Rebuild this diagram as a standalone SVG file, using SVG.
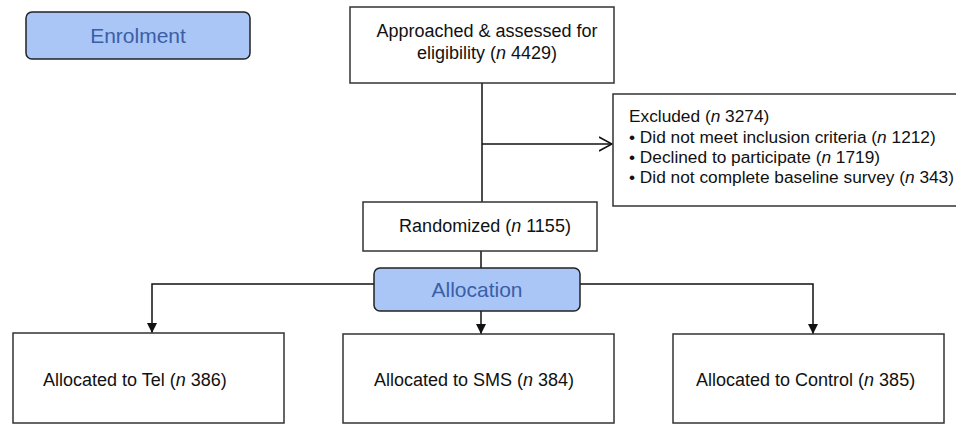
<svg xmlns="http://www.w3.org/2000/svg" width="956" height="424" viewBox="0 0 956 424">
<style>
.box{fill:#fff;stroke:#333;stroke-width:1.5}
.hdr{fill:#a9c6f7;stroke:#222;stroke-width:1.5}
.t{font-family:"Liberation Sans",Arial,sans-serif;font-size:18px;fill:#111}
.tx{font-family:"Liberation Sans",Arial,sans-serif;font-size:17.3px;fill:#111}
.h{font-family:"Liberation Sans",Arial,sans-serif;font-size:21px;fill:#3c5ea6;text-anchor:middle}
.ln{fill:none;stroke:#111;stroke-width:1.5}
</style>
<defs>
<marker id="ah" viewBox="0 0 10 10" refX="10" refY="5" markerWidth="10" markerHeight="10" markerUnits="userSpaceOnUse" orient="auto">
<path d="M0,0 L10,5 L0,10 Z" fill="#111"/>
</marker>
<marker id="oa" viewBox="0 0 14 16" refX="13" refY="8" markerWidth="14" markerHeight="16" markerUnits="userSpaceOnUse" orient="auto">
<path d="M0,1 L13,8 L0,15" fill="none" stroke="#111" stroke-width="1.6"/>
</marker>
</defs>
<g id="connectors">
<path class="ln" d="M482,83 V202"/>
<path class="ln" d="M482,144 H612" marker-end="url(#oa)"/>
<path class="ln" d="M481,251 V268"/>
<path class="ln" d="M374,284 H152 V333" marker-end="url(#ah)"/>
<path class="ln" d="M580,284 H813 V334" marker-end="url(#ah)"/>
<path class="ln" d="M481,311 V334" marker-end="url(#ah)"/>
</g>
<g id="enrolment">
<rect class="hdr" x="26" y="12" width="224" height="47" rx="6"/>
<text class="h" x="138" y="43">Enrolment</text>
</g>
<g id="approached">
<rect class="box" x="350" y="7" width="264" height="76"/>
<text class="t" x="487" y="37" text-anchor="middle">Approached &amp; assessed for</text>
<text class="t" x="487" y="59" text-anchor="middle">eligibility (<tspan font-style="italic">n</tspan> 4429)</text>
</g>
<g id="excluded">
<rect class="box" x="613" y="94" width="360" height="112"/>
<text class="tx" x="629" y="122">Excluded (<tspan font-style="italic">n</tspan> 3274)</text>
<text class="tx" x="629" y="143">• Did not meet inclusion criteria (<tspan font-style="italic">n</tspan> 1212)</text>
<text class="tx" x="629" y="163">• Declined to participate (<tspan font-style="italic">n</tspan> 1719)</text>
<text class="tx" x="629" y="183">• Did not complete baseline survey (<tspan font-style="italic">n</tspan> 343)</text>
</g>
<g id="randomized">
<rect class="box" x="363" y="202" width="234" height="49"/>
<text class="t" x="485" y="232" text-anchor="middle">Randomized (<tspan font-style="italic">n</tspan> 1155)</text>
</g>
<g id="allocation">
<rect class="hdr" x="374" y="268" width="206" height="43" rx="6"/>
<text class="h" x="477" y="297">Allocation</text>
</g>
<g id="tel">
<rect class="box" x="13" y="333" width="271" height="90"/>
<text class="t" x="43" y="386">Allocated to Tel (<tspan font-style="italic">n</tspan> 386)</text>
</g>
<g id="sms">
<rect class="box" x="343" y="334" width="271" height="89"/>
<text class="t" x="374" y="386">Allocated to SMS (<tspan font-style="italic">n</tspan> 384)</text>
</g>
<g id="control">
<rect class="box" x="673" y="334" width="271" height="89"/>
<text class="t" x="696" y="386">Allocated to Control (<tspan font-style="italic">n</tspan> 385)</text>
</g>
</svg>
